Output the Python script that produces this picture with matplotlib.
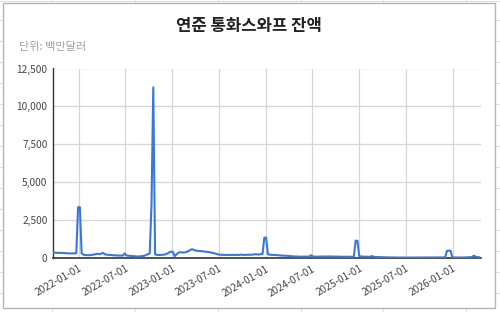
import matplotlib
matplotlib.use("Agg")
import matplotlib.pyplot as plt
import pandas as pd
from matplotlib.patches import Rectangle
from matplotlib.lines import Line2D

plt.rcParams['font.family'] = ['Noto Sans CJK KR', 'DejaVu Sans']

title = "연준 통화스와프 잔액"
subtitle = "단위: 백만달러"
start_date = "2021-09-22"
end_date = "2026-04-22"

vals_2021 = [350, 350, 340, 345, 340, 335, 330, 320, 310, 300, 300, 300, 305, 310, 3350]
vals_2022 = [3350, 300, 220, 200, 190, 180, 200, 210, 230, 260, 280, 250, 300,
             330, 240, 220, 210, 200, 190, 180, 170, 170, 160, 160, 160, 300,
             170, 150, 140, 130, 120, 110, 100, 100, 110, 130, 150, 200, 250,
             300, 3500, 11250, 250, 200, 200, 200, 210, 220, 250, 300, 380, 420]
vals_2023 = [400, 120, 250, 350, 380, 370, 360, 380, 420, 480, 560, 570, 520,
             480, 470, 460, 450, 430, 420, 400, 390, 370, 340, 310, 280, 240,
             220, 210, 210, 205, 200, 200, 200, 210, 200, 200, 210, 200, 220,
             210, 200, 210, 220, 210, 220, 230, 250, 240, 230, 250, 260, 1340]
vals_2024 = [1340, 250, 220, 210, 200, 200, 190, 180, 170, 160, 150, 150, 140,
             130, 120, 110, 100, 100, 90, 90, 90, 90, 90, 90, 90, 180,
             110, 90, 85, 90, 95, 100, 100, 95, 100, 100, 95, 90, 90,
             95, 90, 90, 85, 80, 85, 80, 80, 80, 80, 80, 1140]
vals_2025 = [1140, 120, 100, 90, 85, 80, 80, 80, 130, 80, 70, 60, 60,
             55, 50, 50, 45, 40, 40, 40, 35, 35, 30, 30, 30, 30,
             30, 25, 25, 25, 25, 30, 25, 25, 25, 30, 30, 25, 25,
             30, 30, 30, 35, 30, 35, 35, 40, 35, 40, 50, 480, 480]
vals_2026 = [480, 40, 35, 35, 30, 30, 35, 35, 40, 40, 45, 50, 70, 150, 80, 60, 50]

values = vals_2021 + vals_2022 + vals_2023 + vals_2024 + vals_2025 + vals_2026
dates = pd.date_range(start_date, periods=len(values), freq="7D")

yticks = [0, 2500, 5000, 7500, 10000, 12500]
xtick_labels = ["2022-01-01", "2022-07-01", "2023-01-01", "2023-07-01", "2024-01-01",
                "2024-07-01", "2025-01-01", "2025-07-01", "2026-01-01"]

W, H = 500, 312
fig = plt.figure(figsize=(W / 100, H / 100), dpi=100)
fig.patch.set_facecolor("white")

# spreadsheet background lines (outside the chart card only)
def seg(x0, y0, x1, y1):
    fig.add_artist(Line2D([x0 / W, x1 / W], [1 - y0 / H, 1 - y1 / H],
                          color="#e0e0e0", lw=0.8, zorder=0))

for xv in [52, 135, 218, 301, 383, 466]:
    seg(xv, 0, xv, 3)
    seg(xv, 308, xv, 312)
for yv in [20, 41, 62, 83, 104, 125, 146, 167, 188, 209, 230, 251, 272, 293]:
    seg(0, yv, 3, yv)
    seg(495, yv, 500, yv)
seg(0, 0.5, 500, 0.5)

card = Rectangle((3 / W, 1 - 308 / H), (495 - 3) / W, (308 - 3) / H, transform=fig.transFigure,
                 facecolor="white", edgecolor="#b5b5b5", lw=1.0, zorder=1)
fig.add_artist(card)

ax = fig.add_axes([53 / W, 1 - 258 / H, (481 - 53) / W, (258 - 68.5) / H])
ax.set_zorder(2)
ax.set_facecolor("white")
ax.plot(dates, values, color="#3a78d8", lw=1.5, zorder=3)

ax.set_xlim(pd.Timestamp(start_date), pd.Timestamp(end_date))
ax.set_ylim(0, 12500)
ax.set_yticks(yticks)
ax.set_yticklabels([f"{v:,}" for v in yticks])
ax.set_xticks([pd.Timestamp(d) for d in xtick_labels])
ax.set_xticklabels(xtick_labels, rotation=30, ha="right", rotation_mode="anchor")
ax.tick_params(axis="both", length=0, labelsize=7.3, colors="#444444")
ax.tick_params(axis="y", pad=4)
ax.tick_params(axis="x", pad=4)
ax.grid(True, color="#d6d6d6", lw=0.9)
ax.set_axisbelow(True)
for s in ["top", "right"]:
    ax.spines[s].set_visible(False)
ax.spines["left"].set_color("#333333")
ax.spines["bottom"].set_color("#333333")
ax.spines["left"].set_linewidth(1.0)
ax.spines["bottom"].set_linewidth(1.2)

fig.text(249 / W, 1 - 26 / H, title, ha="center", va="center", fontsize=12,
         fontweight="bold", color="#222222", zorder=3)
fig.text(19 / W, 1 - 47 / H, subtitle, ha="left", va="center", fontsize=8,
         color="#a0a0a0", zorder=3)

fig.savefig("out.png", dpi=100, facecolor="white")
